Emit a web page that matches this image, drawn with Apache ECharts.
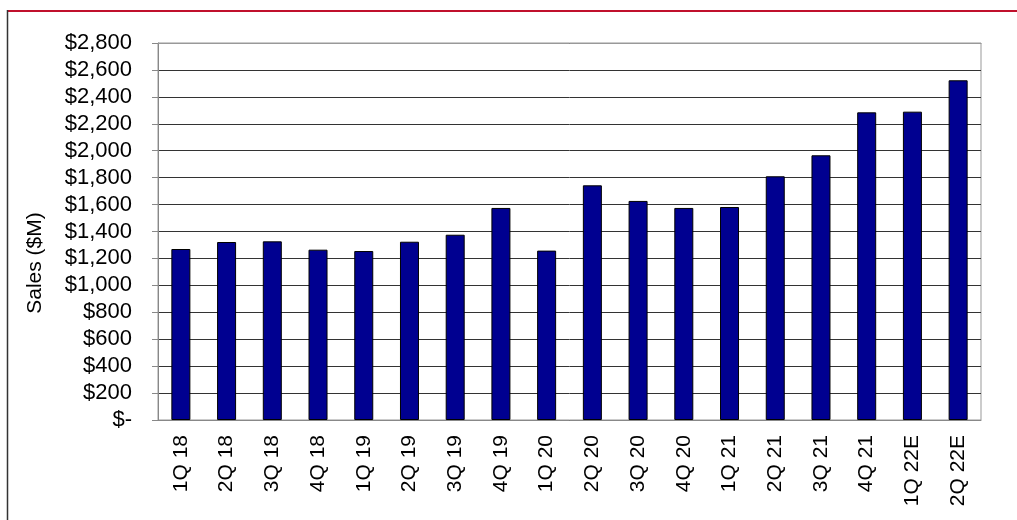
<!DOCTYPE html>
<html>
<head>
<meta charset="utf-8">
<script src="https://cdn.jsdelivr.net/npm/echarts@6/dist/echarts.min.js"></script>
<style>
    html, body { margin: 0; padding: 0; background: #fff; }
    #chart { width: 1017px; height: 520px; }
</style>
</head>
<body>
<div id="chart"></div>
<script>
    // quarters and sales ($M)
    var quarters = ['1Q 18', '2Q 18', '3Q 18', '4Q 18', '1Q 19', '2Q 19', '3Q 19', '4Q 19', '1Q 20',
        '2Q 20', '3Q 20', '4Q 20', '1Q 21', '2Q 21', '3Q 21', '4Q 21', '1Q 22E', '2Q 22E'];
    var sales = [1270, 1322, 1327, 1265, 1255, 1324, 1376, 1575, 1258,
        1743, 1627, 1575, 1582, 1810, 1966, 2285, 2290, 2523];
    var yMin = 0, yMax = 2800, yStep = 200;
    var yTitle = 'Sales ($M)';

    function money(v) {
        if (v === 0) return '$-';
        return '$' + v.toLocaleString('en-US');
    }

    var font = 'Liberation Sans, Arial, sans-serif';
    var myChart = echarts.init(document.getElementById('chart'));

    var option = {
        animation: false,
        backgroundColor: '#fff',
        grid: {
            left: 158,
            right: 36,
            top: 43,
            bottom: 100,
            show: true,
            borderColor: '#999',
            borderWidth: 1
        },
        xAxis: [
            {
                type: 'category',
                data: quarters,
                axisLine: { lineStyle: { color: '#888', width: 1 } },
                axisTick: { length: 6, lineStyle: { color: '#888' } },
                axisLabel: {
                    rotate: 90,
                    margin: 15,
                    color: '#000',
                    fontSize: 21,
                    fontFamily: font
                }
            },
            {
                type: 'category',
                position: 'top',
                data: quarters,
                axisLine: { lineStyle: { color: '#999' } },
                axisTick: { show: false },
                axisLabel: { show: false }
            }
        ],
        yAxis: {
            type: 'value',
            min: yMin,
            max: yMax,
            interval: yStep,
            axisLine: { show: true, lineStyle: { color: '#888' } },
            axisTick: { show: true, length: 6, lineStyle: { color: '#888' } },
            axisLabel: {
                margin: 26,
                color: '#000',
                fontSize: 22,
                fontFamily: font,
                formatter: money
            },
            splitLine: { lineStyle: { color: '#333', width: 1 } }
        },
        series: [
            {
                type: 'bar',
                data: sales,
                barWidth: 19,
                itemStyle: { color: '#000090', borderColor: '#000', borderWidth: 1 }
            }
        ],
        graphic: [
            {
                type: 'line',
                shape: { x1: 7, y1: 11, x2: 1017, y2: 11 },
                style: { stroke: '#c0102c', lineWidth: 2 }
            },
            {
                type: 'line',
                shape: { x1: 7.5, y1: 10, x2: 7.5, y2: 520 },
                style: { stroke: '#333', lineWidth: 1.5 }
            },
            {
                type: 'text',
                x: 35,
                y: 263,
                rotation: Math.PI / 2,
                style: {
                    text: yTitle,
                    fill: '#000',
                    font: '21px ' + font,
                    textAlign: 'center',
                    textVerticalAlign: 'middle'
                }
            }
        ]
    };

    myChart.setOption(option);
    window.addEventListener('resize', function () {
        myChart.resize();
    });
</script>
</body>
</html>
